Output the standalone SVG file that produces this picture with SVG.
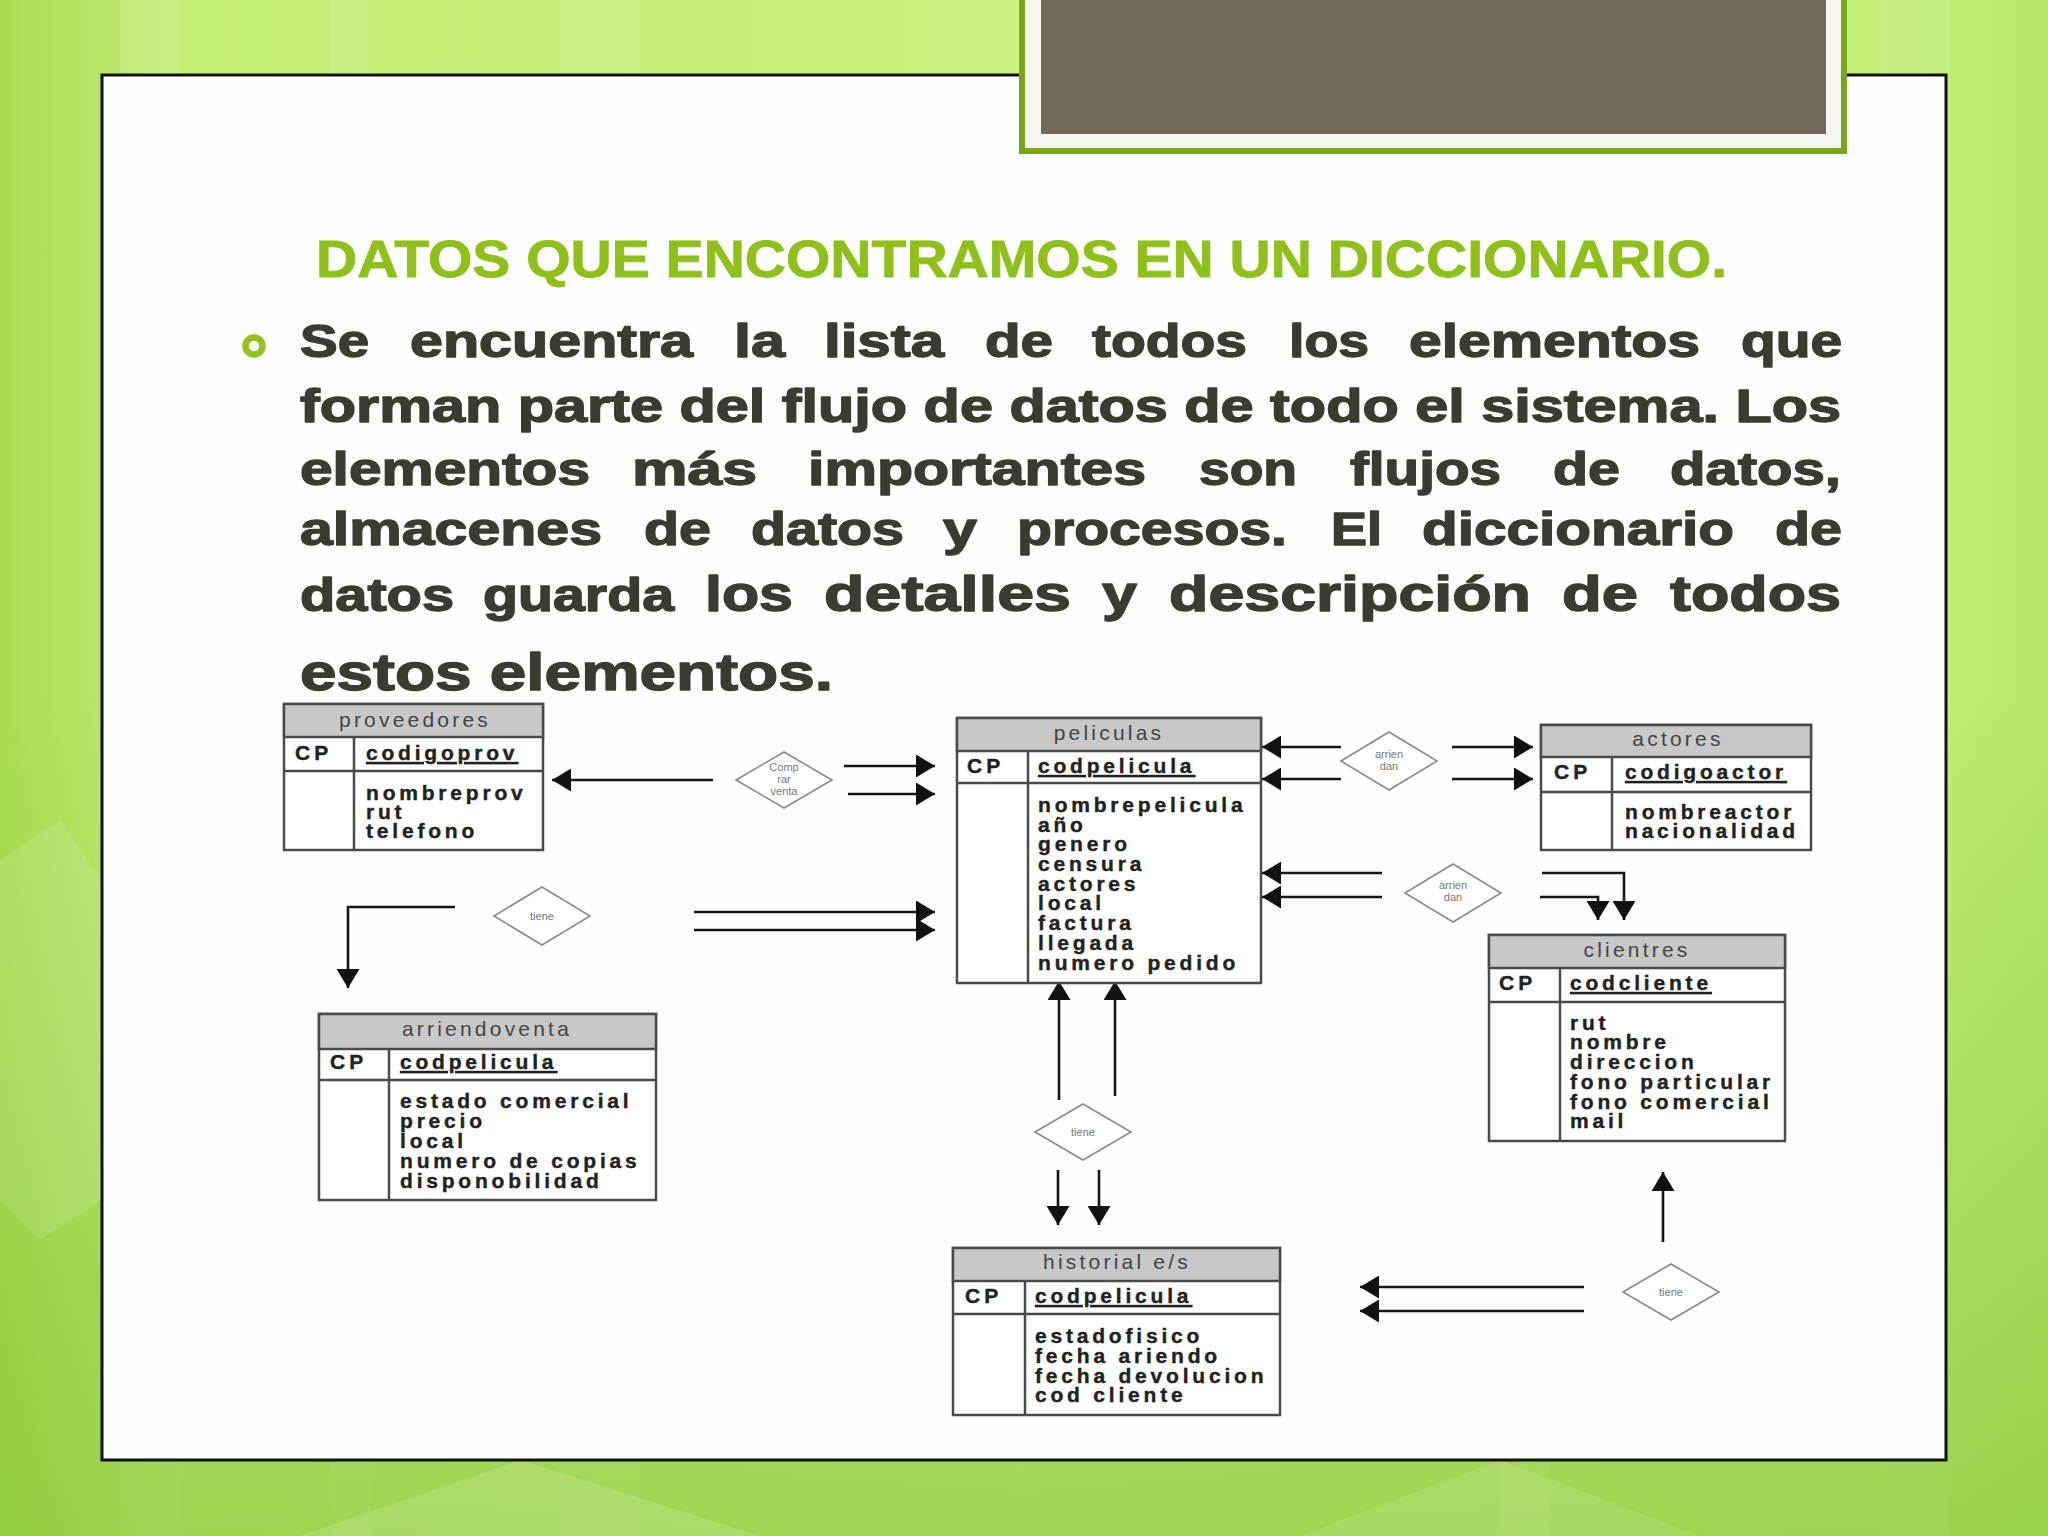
<svg xmlns="http://www.w3.org/2000/svg" width="2048" height="1536" viewBox="0 0 2048 1536">
<defs>
<linearGradient id="bg" x1="0" y1="0" x2="1" y2="0">
<stop offset="0" stop-color="#a9dc52"/>
<stop offset="0.08" stop-color="#c3ee74"/>
<stop offset="0.5" stop-color="#caf27e"/>
<stop offset="0.92" stop-color="#c2ee76"/>
<stop offset="1" stop-color="#b8e86a"/>
</linearGradient>
<linearGradient id="bgv" x1="0" y1="0" x2="0" y2="1">
<stop offset="0" stop-color="#ffffff" stop-opacity="0"/>
<stop offset="0.45" stop-color="#7fbf30" stop-opacity="0"/>
<stop offset="1" stop-color="#7fbf30" stop-opacity="0.55"/>
</linearGradient>
<marker id="ah" viewBox="0 0 19 23" refX="19" refY="11.5" markerWidth="19" markerHeight="23" markerUnits="userSpaceOnUse" orient="auto">
<path d="M0,0 L19,11.5 L0,23 Z" fill="#111"/>
</marker>
<style>
.body{font-family:"Liberation Sans",Arial,sans-serif;font-weight:bold;fill:#3b3b31;stroke:#3b3b31;stroke-width:1.4;stroke-linejoin:round}
.tb{fill:#fff;stroke:#4a4a4a;stroke-width:2.5}
.hd{fill:#c8c8c8;stroke:#4a4a4a;stroke-width:2.5}
.ln{stroke:#4a4a4a;stroke-width:2.5;fill:none}
.ht{font-family:"Liberation Sans",Arial,sans-serif;font-size:21px;fill:#444;letter-spacing:3.2px;text-anchor:middle}
.cp{font-family:"Liberation Sans",Arial,sans-serif;font-size:21px;font-weight:bold;fill:#222;stroke:#222;stroke-width:0.4;letter-spacing:4px}
.fd{font-family:"Liberation Sans",Arial,sans-serif;font-size:21px;font-weight:bold;fill:#222;stroke:#222;stroke-width:0.4;letter-spacing:3.8px}
.ky{text-decoration:underline}
.dm{fill:#fff;stroke:#8a8a8a;stroke-width:1.6}
.dt{font-family:"Liberation Sans",Arial,sans-serif;font-size:11px;fill:#777;text-anchor:middle}
.cn{stroke:#151515;stroke-width:2.6;fill:none;marker-end:url(#ah)}
</style>
</defs>

<rect x="0" y="0" width="2048" height="1536" fill="url(#bg)"/>
<g opacity="0.1" fill="#ffffff">
<rect x="120" y="0" width="60" height="1536"/>
<rect x="330" y="0" width="40" height="1536"/>
<rect x="560" y="0" width="80" height="1536"/>
<rect x="1500" y="0" width="50" height="1536"/>
<rect x="1880" y="0" width="70" height="1536"/>
</g>
<rect x="0" y="0" width="2048" height="1536" fill="url(#bgv)"/>
<polygon points="0,860 60,820 102,880 102,1200 40,1240 0,1200" fill="#ffffff" opacity="0.12"/>
<polygon points="300,1536 520,1460 760,1536" fill="#ffffff" opacity="0.12"/>
<polygon points="1300,1536 1500,1460 1700,1536" fill="#ffffff" opacity="0.1"/>

<rect x="102" y="75" width="1844" height="1385" fill="#fefefe" stroke="#111" stroke-width="3"/>

<g id="tab">
<rect x="1019" y="-10" width="828" height="164" fill="#78a61a"/>
<rect x="1025" y="-10" width="816" height="158" fill="#f5f5f1"/>
<rect x="1041" y="-10" width="785" height="144" fill="#71685b"/>
</g>

<text x="316" y="277" font-family="Liberation Sans, Arial, sans-serif" font-weight="bold" font-size="52" fill="#8fc01a" stroke="#8fc01a" stroke-width="0.8" textLength="1411" lengthAdjust="spacingAndGlyphs">DATOS QUE ENCONTRAMOS EN UN DICCIONARIO.</text>

<circle cx="254" cy="346" r="8.5" fill="none" stroke="#94c11f" stroke-width="6.5"/>

<g class="body" font-size="46">
<text x="300" y="357" textLength="69" lengthAdjust="spacingAndGlyphs">Se</text>
<text x="410" y="357" textLength="283" lengthAdjust="spacingAndGlyphs">encuentra</text>
<text x="734" y="357" textLength="51" lengthAdjust="spacingAndGlyphs">la</text>
<text x="824" y="357" textLength="120" lengthAdjust="spacingAndGlyphs">lista</text>
<text x="985" y="357" textLength="68" lengthAdjust="spacingAndGlyphs">de</text>
<text x="1092" y="357" textLength="155" lengthAdjust="spacingAndGlyphs">todos</text>
<text x="1289" y="357" textLength="80" lengthAdjust="spacingAndGlyphs">los</text>
<text x="1409" y="357" textLength="291" lengthAdjust="spacingAndGlyphs">elementos</text>
<text x="1741" y="357" textLength="101" lengthAdjust="spacingAndGlyphs">que</text>

<text x="300" y="422" textLength="1541" lengthAdjust="spacingAndGlyphs">forman parte del flujo de datos de todo el sistema. Los</text>

<text x="300" y="485" textLength="290" lengthAdjust="spacingAndGlyphs">elementos</text>
<text x="632" y="485" textLength="125" lengthAdjust="spacingAndGlyphs">más</text>
<text x="808" y="485" textLength="338" lengthAdjust="spacingAndGlyphs">importantes</text>
<text x="1199" y="485" textLength="98" lengthAdjust="spacingAndGlyphs">son</text>
<text x="1350" y="485" textLength="151" lengthAdjust="spacingAndGlyphs">flujos</text>
<text x="1553" y="485" textLength="67" lengthAdjust="spacingAndGlyphs">de</text>
<text x="1670" y="485" textLength="171" lengthAdjust="spacingAndGlyphs">datos,</text>

<text x="300" y="545" textLength="302" lengthAdjust="spacingAndGlyphs">almacenes</text>
<text x="644" y="545" textLength="67" lengthAdjust="spacingAndGlyphs">de</text>
<text x="751" y="545" textLength="153" lengthAdjust="spacingAndGlyphs">datos</text>
<text x="943" y="545" textLength="34" lengthAdjust="spacingAndGlyphs">y</text>
<text x="1017" y="545" textLength="270" lengthAdjust="spacingAndGlyphs">procesos.</text>
<text x="1331" y="545" textLength="51" lengthAdjust="spacingAndGlyphs">El</text>
<text x="1422" y="545" textLength="312" lengthAdjust="spacingAndGlyphs">diccionario</text>
<text x="1775" y="545" textLength="67" lengthAdjust="spacingAndGlyphs">de</text>

<text x="300" y="611" textLength="154" lengthAdjust="spacingAndGlyphs">datos</text>
<text x="483" y="611" textLength="191" lengthAdjust="spacingAndGlyphs">guarda</text>
<text x="705" y="611" font-size="50" textLength="88" lengthAdjust="spacingAndGlyphs">los</text>
<text x="824" y="611" font-size="50" textLength="247" lengthAdjust="spacingAndGlyphs">detalles</text>
<text x="1102" y="611" font-size="50" textLength="35" lengthAdjust="spacingAndGlyphs">y</text>
<text x="1169" y="611" font-size="50" textLength="362" lengthAdjust="spacingAndGlyphs">descripción</text>
<text x="1562" y="611" font-size="50" textLength="76" lengthAdjust="spacingAndGlyphs">de</text>
<text x="1670" y="611" font-size="50" textLength="171" lengthAdjust="spacingAndGlyphs">todos</text>

<text x="300" y="690" font-size="52" textLength="533" lengthAdjust="spacingAndGlyphs">estos elementos.</text>
</g>

<g id="connectors">
<path class="cn" d="M713,780 L552,780"/>
<path class="cn" d="M844,766 L935,766"/>
<path class="cn" d="M848,794 L935,794"/>
<path class="cn" d="M455,907 L348,907 L348,988"/>
<path class="cn" d="M694,912 L935,912"/>
<path class="cn" d="M694,930 L935,930"/>
<path class="cn" d="M1341,747 L1262,747"/>
<path class="cn" d="M1341,779 L1262,779"/>
<path class="cn" d="M1452,747 L1533,747"/>
<path class="cn" d="M1452,779 L1533,779"/>
<path class="cn" d="M1382,873 L1262,873"/>
<path class="cn" d="M1382,897 L1262,897"/>
<path class="cn" d="M1542,873 L1624,873 L1624,920"/>
<path class="cn" d="M1540,897 L1598,897 L1598,920"/>
<path class="cn" d="M1059,1100 L1059,981"/>
<path class="cn" d="M1115,1096 L1115,981"/>
<path class="cn" d="M1058,1170 L1058,1225"/>
<path class="cn" d="M1099,1170 L1099,1225"/>
<path class="cn" d="M1584,1287 L1360,1287"/>
<path class="cn" d="M1584,1311 L1360,1311"/>
<path class="cn" d="M1663,1242 L1663,1172"/>
</g>

<g id="proveedores">
<rect class="tb" x="284" y="704" width="259" height="146"/>
<rect class="hd" x="284" y="704" width="259" height="33"/>
<line class="ln" x1="284" y1="771" x2="543" y2="771"/>
<line class="ln" x1="354" y1="737" x2="354" y2="850"/>
<text class="ht" x="415" y="727">proveedores</text>
<text class="cp" x="295" y="760">CP</text>
<text class="fd ky" x="366" y="760">codigoprov</text>
<text class="fd" x="366" y="800">nombreprov</text>
<text class="fd" x="366" y="819">rut</text>
<text class="fd" x="366" y="838">telefono</text>
</g>

<g id="peliculas">
<rect class="tb" x="957" y="718" width="304" height="265"/>
<rect class="hd" x="957" y="718" width="304" height="33"/>
<line class="ln" x1="957" y1="783" x2="1261" y2="783"/>
<line class="ln" x1="1028" y1="751" x2="1028" y2="983"/>
<text class="ht" x="1109" y="740">peliculas</text>
<text class="cp" x="967" y="773">CP</text>
<text class="fd ky" x="1038" y="773">codpelicula</text>
<text class="fd" x="1038" y="812">nombrepelicula</text>
<text class="fd" x="1038" y="832">año</text>
<text class="fd" x="1038" y="851">genero</text>
<text class="fd" x="1038" y="871">censura</text>
<text class="fd" x="1038" y="891">actores</text>
<text class="fd" x="1038" y="910">local</text>
<text class="fd" x="1038" y="930">factura</text>
<text class="fd" x="1038" y="950">llegada</text>
<text class="fd" x="1038" y="970">numero pedido</text>
</g>

<g id="actores">
<rect class="tb" x="1541" y="725" width="270" height="125"/>
<rect class="hd" x="1541" y="725" width="270" height="32"/>
<line class="ln" x1="1541" y1="792" x2="1811" y2="792"/>
<line class="ln" x1="1612" y1="757" x2="1612" y2="850"/>
<text class="ht" x="1678" y="746">actores</text>
<text class="cp" x="1554" y="779">CP</text>
<text class="fd ky" x="1625" y="779">codigoactor</text>
<text class="fd" x="1625" y="819">nombreactor</text>
<text class="fd" x="1625" y="838">nacionalidad</text>
</g>

<g id="clientres">
<rect class="tb" x="1489" y="935" width="296" height="206"/>
<rect class="hd" x="1489" y="935" width="296" height="33"/>
<line class="ln" x1="1489" y1="1002" x2="1785" y2="1002"/>
<line class="ln" x1="1560" y1="968" x2="1560" y2="1141"/>
<text class="ht" x="1637" y="957">clientres</text>
<text class="cp" x="1499" y="990">CP</text>
<text class="fd ky" x="1570" y="990">codcliente</text>
<text class="fd" x="1570" y="1030">rut</text>
<text class="fd" x="1570" y="1049">nombre</text>
<text class="fd" x="1570" y="1069">direccion</text>
<text class="fd" x="1570" y="1089">fono particular</text>
<text class="fd" x="1570" y="1109">fono comercial</text>
<text class="fd" x="1570" y="1128">mail</text>
</g>

<g id="arriendoventa">
<rect class="tb" x="319" y="1014" width="337" height="186"/>
<rect class="hd" x="319" y="1014" width="337" height="35"/>
<line class="ln" x1="319" y1="1080" x2="656" y2="1080"/>
<line class="ln" x1="389" y1="1049" x2="389" y2="1200"/>
<text class="ht" x="487" y="1036">arriendoventa</text>
<text class="cp" x="330" y="1069">CP</text>
<text class="fd ky" x="400" y="1069">codpelicula</text>
<text class="fd" x="400" y="1108">estado comercial</text>
<text class="fd" x="400" y="1128">precio</text>
<text class="fd" x="400" y="1148">local</text>
<text class="fd" x="400" y="1168">numero de copias</text>
<text class="fd" x="400" y="1188">disponobilidad</text>
</g>

<g id="historial">
<rect class="tb" x="953" y="1248" width="327" height="167"/>
<rect class="hd" x="953" y="1248" width="327" height="33"/>
<line class="ln" x1="953" y1="1314" x2="1280" y2="1314"/>
<line class="ln" x1="1025" y1="1281" x2="1025" y2="1415"/>
<text class="ht" x="1117" y="1269">historial e/s</text>
<text class="cp" x="965" y="1303">CP</text>
<text class="fd ky" x="1035" y="1303">codpelicula</text>
<text class="fd" x="1035" y="1343">estadofisico</text>
<text class="fd" x="1035" y="1363">fecha ariendo</text>
<text class="fd" x="1035" y="1383">fecha devolucion</text>
<text class="fd" x="1035" y="1402">cod cliente</text>
</g>

<g id="rel-comprar-venta">
<polygon class="dm" points="736,780 784,752 832,780 784,808"/>
<text class="dt" x="784" y="771">Comp</text>
<text class="dt" x="784" y="783">rar</text>
<text class="dt" x="784" y="795">venta</text>
</g>
<g id="rel-tiene-1">
<polygon class="dm" points="494,916 542,887 590,916 542,945"/>
<text class="dt" x="542" y="920">tiene</text>
</g>
<g id="rel-arriendan-1">
<polygon class="dm" points="1341,761 1389,732 1437,761 1389,790"/>
<text class="dt" x="1389" y="758">arrien</text>
<text class="dt" x="1389" y="770">dan</text>
</g>
<g id="rel-arriendan-2">
<polygon class="dm" points="1405,893 1453,864 1501,893 1453,922"/>
<text class="dt" x="1453" y="889">arrien</text>
<text class="dt" x="1453" y="901">dan</text>
</g>
<g id="rel-tiene-2">
<polygon class="dm" points="1035,1132 1083,1104 1131,1132 1083,1160"/>
<text class="dt" x="1083" y="1136">tiene</text>
</g>
<g id="rel-tiene-3">
<polygon class="dm" points="1623,1292 1671,1264 1719,1292 1671,1320"/>
<text class="dt" x="1671" y="1296">tiene</text>
</g>
</svg>
